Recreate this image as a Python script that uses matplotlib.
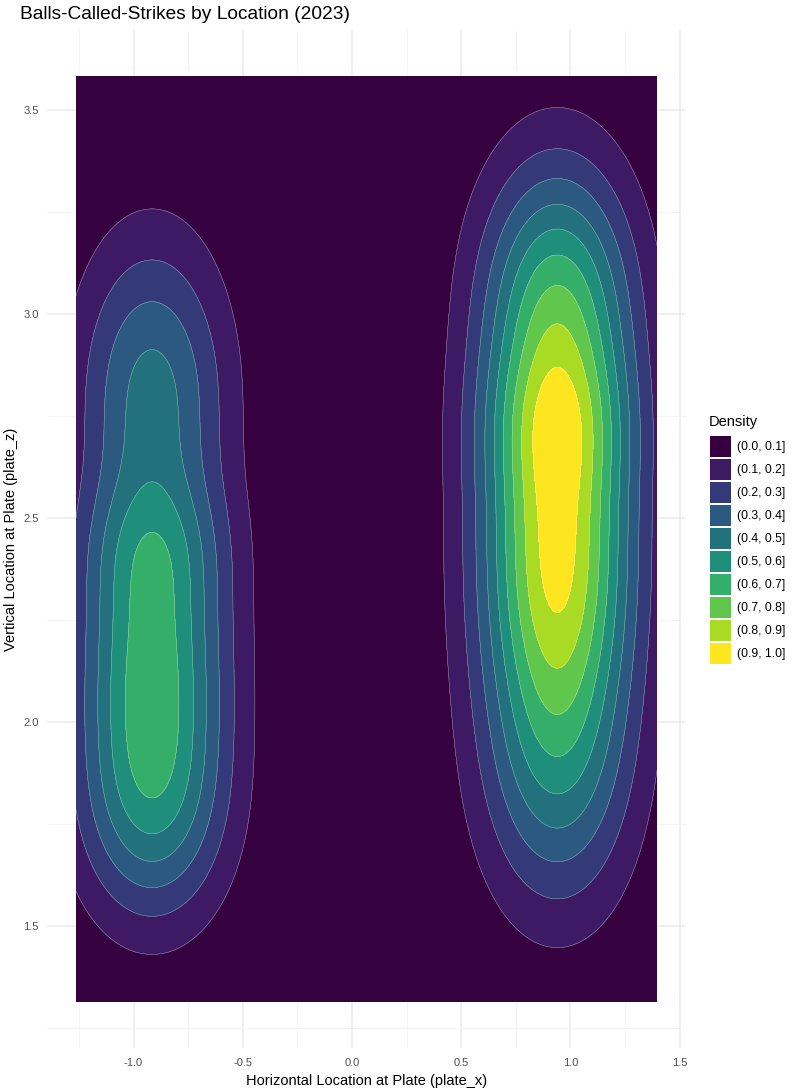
import numpy as np
import matplotlib
matplotlib.use("Agg")
import matplotlib.pyplot as plt
from matplotlib.patches import Patch

plt.rcParams['font.family'] = ['Liberation Sans', 'DejaVu Sans']

# density model: each blob is a gaussian across plate_x
# times a sum of gaussians along plate_z
left_x_center = -0.915
left_x_sd = 0.24
left_z_center = [1.83, 2.437, 2.797, 2.196]
left_z_sd = [0.219, 0.133, 0.268, 0.2]
left_weight = [0.528, 0.207, 0.439, 0.463]

right_x_center = 0.94
right_x_sd = 0.245
right_z_center = [3.017, 2.413, 1.889, 2.728]
right_z_sd = [0.254, 0.298, 0.263, 0.137]
right_weight = [0.633, 0.849, 0.393, 0.178]

# range of the pitch locations (extent of the density grid)
x_range = [-1.263, 1.396]
z_range = [1.314, 3.583]

levels = [0.0, 0.1, 0.2, 0.3, 0.4, 0.5, 0.6, 0.7, 0.8, 0.9, 1.0]
labels = ['(0.0, 0.1]', '(0.1, 0.2]', '(0.2, 0.3]', '(0.3, 0.4]', '(0.4, 0.5]',
          '(0.5, 0.6]', '(0.6, 0.7]', '(0.7, 0.8]', '(0.8, 0.9]', '(0.9, 1.0]']
colors = ['#35023F', '#3D1A63', '#333A77', '#2B597F', '#22717D',
          '#1F8E7B', '#34AE69', '#60C64C', '#A9DA24', '#FDE620']


def blob(X, Z, xc, xsd, zc, zsd, w):
    out = np.zeros_like(X)
    for c, s, a in zip(zc, zsd, w):
        out += a * np.exp(-(Z - c) ** 2 / (2 * s ** 2))
    return out * np.exp(-(X - xc) ** 2 / (2 * xsd ** 2))


xs = np.linspace(x_range[0], x_range[1], 300)
zs = np.linspace(z_range[0], z_range[1], 300)
X, Z = np.meshgrid(xs, zs)
dens = blob(X, Z, left_x_center, left_x_sd, left_z_center, left_z_sd, left_weight)
dens += blob(X, Z, right_x_center, right_x_sd, right_z_center, right_z_sd, right_weight)
dens = dens / dens.max()

fig = plt.figure(figsize=(8, 10.92), dpi=100)
ax = fig.add_axes([0.05875, 0.0399, 0.79875, 0.933])
ax.contourf(X, Z, dens, levels=levels, colors=colors)
ax.contour(X, Z, dens, levels=levels[1:-1], colors='white', linewidths=0.3, alpha=0.6)

ax.set_xlim(-1.396, 1.529)
ax.set_ylim(1.2, 3.697)
ax.set_xticks([-1.0, -0.5, 0.0, 0.5, 1.0, 1.5])
ax.set_xticklabels(['-1.0', '-0.5', '0.0', '0.5', '1.0', '1.5'])
ax.set_yticks([1.5, 2.0, 2.5, 3.0, 3.5])
ax.set_yticklabels(['1.5', '2.0', '2.5', '3.0', '3.5'])
ax.set_xticks([-1.25, -0.75, -0.25, 0.25, 0.75, 1.25], minor=True)
ax.set_yticks([1.25, 1.75, 2.25, 2.75, 3.25], minor=True)
ax.grid(which='major', color='#EBEBEB', linewidth=1.1)
ax.grid(which='minor', color='#F3F3F3', linewidth=0.55)
ax.set_axisbelow(True)
for sp in ax.spines.values():
    sp.set_visible(False)
ax.tick_params(which='both', length=0, labelsize=8, labelcolor='#4D4D4D')
ax.tick_params(axis='x', pad=7)
ax.tick_params(axis='y', pad=6)
ax.set_xlabel('Horizontal Location at Plate (plate_x)', fontsize=10.5, color='black', labelpad=4)
ax.set_ylabel('Vertical Location at Plate (plate_z)', fontsize=10.5, color='black', labelpad=4)
fig.text(0.025, 0.987, 'Balls-Called-Strikes by Location (2023)', fontsize=13.8, va='center', ha='left')

fig.text(709 / 800, 1 - 422 / 1092, 'Density', fontsize=10.5, va='center', ha='left')
handles = [Patch(facecolor=c, edgecolor='none') for c in colors]
leg = fig.legend(handles, labels, loc='upper left', bbox_to_anchor=(0.8875, 1 - 436 / 1092),
                 frameon=False, fontsize=8.8, handlelength=1.72, handleheight=2.26,
                 labelspacing=0.165, handletextpad=0.49, borderpad=0, borderaxespad=0)

fig.savefig('out.png', dpi=100)
